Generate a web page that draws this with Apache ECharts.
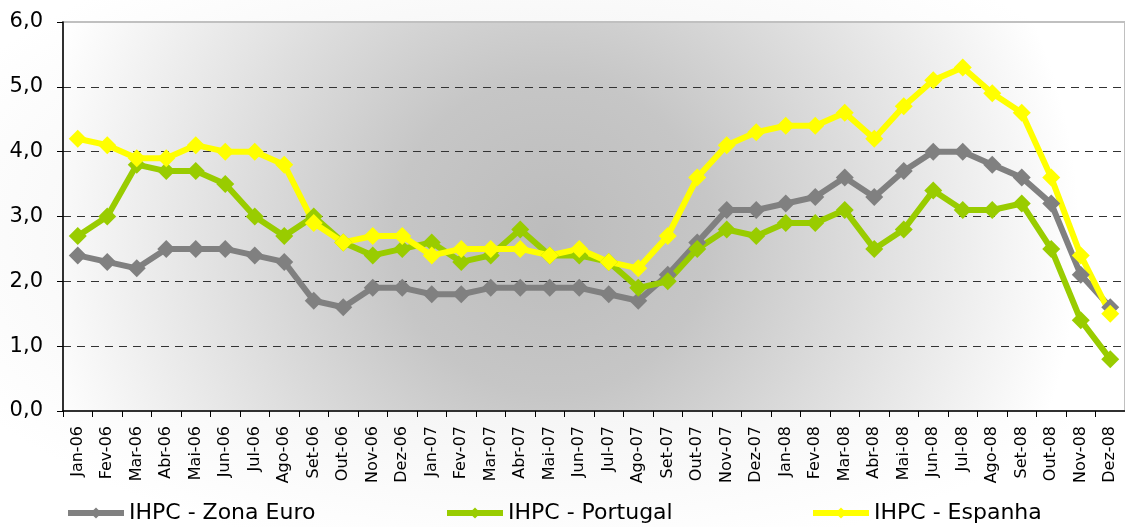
<!DOCTYPE html>
<html>
<head>
<meta charset="utf-8">
<script src="https://cdn.jsdelivr.net/npm/echarts@6/dist/echarts.min.js"></script>
<style>
  html, body { margin: 0; padding: 0; }
  body {
    background: radial-gradient(ellipse at 48% 45%, #ececec 0%, #f6f6f6 45%, #ffffff 80%);
  }
  #main { width: 1125px; height: 527px; }
</style>
</head>
<body>
<div id="main"></div>
<script>
let months = ['Jan-06', 'Fev-06', 'Mar-06', 'Abr-06', 'Mai-06', 'Jun-06', 'Jul-06', 'Ago-06', 'Set-06', 'Out-06', 'Nov-06', 'Dez-06',
  'Jan-07', 'Fev-07', 'Mar-07', 'Abr-07', 'Mai-07', 'Jun-07', 'Jul-07', 'Ago-07', 'Set-07', 'Out-07', 'Nov-07', 'Dez-07',
  'Jan-08', 'Fev-08', 'Mar-08', 'Abr-08', 'Mai-08', 'Jun-08', 'Jul-08', 'Ago-08', 'Set-08', 'Out-08', 'Nov-08', 'Dez-08']

let zonaEuro = [2.4, 2.3, 2.2, 2.5, 2.5, 2.5, 2.4, 2.3, 1.7, 1.6, 1.9, 1.9,
  1.8, 1.8, 1.9, 1.9, 1.9, 1.9, 1.8, 1.7, 2.1, 2.6, 3.1, 3.1,
  3.2, 3.3, 3.6, 3.3, 3.7, 4.0, 4.0, 3.8, 3.6, 3.2, 2.1, 1.6]

let portugal = [2.7, 3.0, 3.8, 3.7, 3.7, 3.5, 3.0, 2.7, 3.0, 2.6, 2.4, 2.5,
  2.6, 2.3, 2.4, 2.8, 2.4, 2.4, 2.3, 1.9, 2.0, 2.5, 2.8, 2.7,
  2.9, 2.9, 3.1, 2.5, 2.8, 3.4, 3.1, 3.1, 3.2, 2.5, 1.4, 0.8]

let espanha = [4.2, 4.1, 3.9, 3.9, 4.1, 4.0, 4.0, 3.8, 2.9, 2.6, 2.7, 2.7,
  2.4, 2.5, 2.5, 2.5, 2.4, 2.5, 2.3, 2.2, 2.7, 3.6, 4.1, 4.3,
  4.4, 4.4, 4.6, 4.2, 4.7, 5.1, 5.3, 4.9, 4.6, 3.6, 2.4, 1.5]

let seriesNames = ['IHPC - Zona Euro', 'IHPC - Portugal', 'IHPC - Espanha']
let seriesColors = ['#808080', '#99cc00', '#ffff00']

let font = 'DejaVu Sans'

function makeSeries (name, data, color) {
  return {
    name: name,
    type: 'line',
    data: data,
    symbol: 'diamond',
    symbolSize: 18,
    showSymbol: true,
    animation: false,
    lineStyle: { color: color, width: 6 },
    itemStyle: { color: color },
    emphasis: { disabled: true }
  }
}

function makeLegend (name, left) {
  return {
    data: [name],
    left: left,
    top: 502,
    itemWidth: 56,
    itemHeight: 14,
    itemGap: 0,
    padding: 0,
    selectedMode: false,
    lineStyle: { width: 6 },
    textStyle: { fontFamily: font, fontSize: 22, color: '#000' }
  }
}

let option = {
  backgroundColor: 'transparent',
  textStyle: { fontFamily: font },
  grid: {
    left: 63,
    top: 22,
    width: 1069,
    height: 389,
    show: true,
    borderColor: '#c0c0c0',
    borderWidth: 2,
    backgroundColor: {
      type: 'radial',
      x: 0.46,
      y: 0.55,
      r: 1.35,
      colorStops: [
        { offset: 0, color: '#bcbcbc' },
        { offset: 0.3, color: '#c6c6c6' },
        { offset: 1, color: '#ffffff' }
      ]
    }
  },
  legend: [
    makeLegend(seriesNames[0], 65),
    makeLegend(seriesNames[1], 444),
    makeLegend(seriesNames[2], 810)
  ],
  xAxis: {
    type: 'category',
    data: months,
    boundaryGap: true,
    axisLine: { lineStyle: { color: '#000', width: 1.5 } },
    axisTick: { show: true, length: 6, alignWithLabel: false, lineStyle: { color: '#000' } },
    axisLabel: {
      interval: 0,
      rotate: 90,
      margin: 15,
      fontFamily: font,
      fontSize: 16,
      color: '#000'
    },
    splitLine: { show: false }
  },
  yAxis: {
    type: 'value',
    min: 0,
    max: 6,
    interval: 1,
    axisLine: { show: true, lineStyle: { color: '#000', width: 1.5 } },
    axisTick: { show: true, length: 6, lineStyle: { color: '#000' } },
    axisLabel: {
      margin: 20,
      fontFamily: font,
      fontSize: 21,
      color: '#000',
      formatter: function (v) { return v.toFixed(1).replace('.', ',') }
    },
    splitLine: {
      show: true,
      lineStyle: {
        color: ['transparent', '#333', '#333', '#333', '#333', '#333', 'transparent'],
        type: [8, 6],
        width: 1
      }
    }
  },
  series: [
    makeSeries(seriesNames[0], zonaEuro, seriesColors[0]),
    makeSeries(seriesNames[1], portugal, seriesColors[1]),
    makeSeries(seriesNames[2], espanha, seriesColors[2])
  ]
}

let myChart = echarts.init(document.getElementById('main'))
myChart.setOption(option)
</script>
</body>
</html>
